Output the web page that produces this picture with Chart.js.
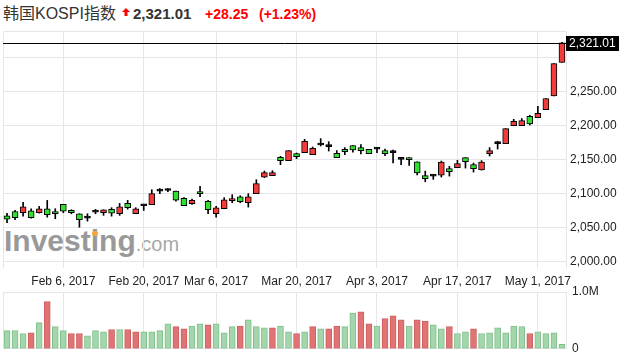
<!DOCTYPE html>
<html>
<head>
<meta charset="utf-8">
<script src="https://cdn.jsdelivr.net/npm/chart.js@4.4.1/dist/chart.umd.min.js"></script>
<style>
html, body { margin: 0; padding: 0; background: #fff; }
#wrap { position: relative; width: 626px; height: 362px; overflow: hidden; font-family: "Liberation Sans", Arial, sans-serif; }
#head { position: absolute; left: 3px; top: 3px; height: 22px; line-height: 22px; white-space: nowrap; }
#name { font-family: "Liberation Sans", "Noto Sans CJK SC", sans-serif; font-size: 16px; color: #333; }
#arrow { position: absolute; left: 119px; top: 5px; }
#last { position: absolute; left: 130px; top: 0; font-size: 15px; font-weight: bold; color: #333; }
#chg { position: absolute; left: 202px; top: 0; font-size: 14px; font-weight: bold; color: #f00; }
#pct { position: absolute; left: 256px; top: 0; font-size: 14px; font-weight: bold; color: #f00; }
#logo { position: absolute; left: 4px; top: 224px; color: #999; white-space: nowrap; line-height: 34px; }
#logo b { font-size: 30px; }
#logo b i { font-style: normal; position: relative; }
#logo b i::after { content: ""; position: absolute; left: 1px; top: 7px; width: 6px; height: 5px; border-radius: 3px; background: #f6a53a; }
#logo span { font-size: 20px; color: #a8a8a8; }
canvas { position: absolute; left: 0; top: 0; }
</style>
</head>
<body>
<div id="wrap">
  <div id="logo"><b>Invest<i>i</i>ng</b><span>.com</span></div>
  <div id="head">
    <span id="name">韩国KOSPI指数</span>
    <svg id="arrow" width="8" height="8" viewBox="0 0 8 8"><path d="M4 0 L8 4 L5.5 4 L5.5 8 L2.5 8 L2.5 4 L0 4 Z" fill="#f00"/></svg>
    <span id="last">2,321.01</span>
    <span id="chg">+28.25</span>
    <span id="pct">(+1.23%)</span>
  </div>
  <canvas id="priceChart" width="626" height="362"></canvas>
  <canvas id="volChart" width="626" height="362"></canvas>
</div>
<script>
// trading days shown
const dates = [
'2017-01-24','2017-01-25','2017-01-26','2017-01-31','2017-02-01','2017-02-02','2017-02-03',
'2017-02-06','2017-02-07','2017-02-08','2017-02-09','2017-02-10',
'2017-02-13','2017-02-14','2017-02-15','2017-02-16','2017-02-17',
'2017-02-20','2017-02-21','2017-02-22','2017-02-23','2017-02-24',
'2017-02-27','2017-02-28','2017-03-02','2017-03-03',
'2017-03-06','2017-03-07','2017-03-08','2017-03-09','2017-03-10',
'2017-03-13','2017-03-14','2017-03-15','2017-03-16','2017-03-17',
'2017-03-20','2017-03-21','2017-03-22','2017-03-23','2017-03-24',
'2017-03-27','2017-03-28','2017-03-29','2017-03-30','2017-03-31',
'2017-04-03','2017-04-04','2017-04-05','2017-04-06','2017-04-07',
'2017-04-10','2017-04-11','2017-04-12','2017-04-13','2017-04-14',
'2017-04-17','2017-04-18','2017-04-19','2017-04-20','2017-04-21',
'2017-04-24','2017-04-25','2017-04-26','2017-04-27','2017-04-28',
'2017-05-02','2017-05-04','2017-05-08','2017-05-10'
];

const opens = [
2067.2,2073.5,2071.6,2074.6,2071.6,2077.5,2073.5,2083.8,2075.0,2070.1,
2063.7,2072.5,2071.6,2076.5,2070.1,2085.3,2070.1,2081.9,2083.4,2103.4,
2104.3,2103.4,2092.6,2084.9,2102.5,2088.2,2070.1,2077.5,2089.3,2095.1,
2086.3,2099.6,2124.0,2126.0,2152.9,2148.1,2158.4,2159.9,2156.9,2171.0,
2168.7,2158.8,2164.7,2170.1,2167.2,2164.7,2165.1,2162.8,2159.9,2150.0,
2152.5,2146.3,2126.0,2125.4,2126.9,2136.3,2137.8,2152.5,2142.2,2134.3,
2158.4,2173.1,2173.1,2199.6,2199.6,2213.2,2211.3,2223.1,2243.1,2292.2
];
const highs = [
2070.6,2075.0,2086.8,2077.5,2080.9,2089.7,2077.5,2083.8,2076.0,2070.1,
2070.1,2076.5,2076.0,2079.0,2085.3,2089.7,2079.0,2083.8,2105.4,2106.9,
2106.9,2103.4,2093.7,2091.6,2110.3,2089.7,2080.9,2093.7,2098.1,2096.6,
2099.6,2120.1,2132.8,2133.4,2154.4,2162.8,2159.3,2179.4,2168.1,2180.4,
2176.0,2162.8,2167.2,2170.1,2171.6,2164.7,2167.2,2165.1,2163.7,2151.0,
2152.5,2146.3,2132.8,2127.6,2147.5,2139.7,2148.5,2152.5,2144.6,2148.1,
2167.2,2176.5,2195.1,2208.8,2209.9,2214.7,2227.9,2239.3,2290.7,2321.6
];
const lows = [
2056.9,2061.3,2066.6,2063.7,2071.0,2065.1,2062.8,2071.6,2070.1,2050.4,
2059.3,2070.1,2067.8,2066.6,2067.8,2076.9,2070.1,2075.0,2083.4,2099.6,
2102.5,2088.7,2081.9,2083.8,2095.1,2070.1,2065.1,2077.5,2086.3,2086.3,
2079.9,2099.6,2123.1,2126.0,2142.2,2148.1,2151.0,2159.9,2156.9,2169.6,
2162.2,2152.5,2156.9,2160.7,2157.8,2158.4,2159.9,2155.4,2144.6,2142.2,
2140.9,2127.1,2117.1,2120.6,2124.0,2125.4,2137.8,2137.2,2131.3,2134.3,
2154.9,2165.1,2173.1,2199.6,2199.6,2200.4,2211.3,2223.1,2243.1,2292.2
];
const closes = [
2062.2,2064.3,2080.4,2064.3,2077.5,2068.7,2070.1,2074.0,2071.6,2061.3,
2063.7,2072.5,2076.0,2071.0,2080.4,2079.0,2077.5,2081.9,2099.6,2103.4,
2104.3,2090.1,2081.9,2089.7,2099.6,2076.0,2079.0,2090.7,2092.2,2087.8,
2095.1,2114.3,2130.4,2130.4,2148.1,2162.8,2154.0,2176.5,2166.2,2171.0,
2168.7,2152.5,2161.3,2163.7,2162.8,2158.4,2165.1,2158.4,2159.9,2150.0,
2149.6,2130.1,2121.8,2125.4,2146.0,2131.9,2143.7,2146.6,2136.3,2146.0,
2162.8,2173.1,2195.1,2205.9,2206.9,2201.9,2217.6,2239.3,2290.7,2321.01
];

// volume in millions, 1 = red bar, 0 = green bar
const volumes = [
0.32,0.32,0.27,0.28,0.46,0.83,0.39,0.32,0.27,0.27,
0.23,0.32,0.30,0.34,0.34,0.34,0.30,0.30,0.30,0.32,
0.44,0.39,0.35,0.40,0.44,0.42,0.44,0.28,0.39,0.40,
0.51,0.39,0.37,0.37,0.40,0.30,0.27,0.30,0.39,0.35,
0.35,0.40,0.39,0.63,0.65,0.44,0.40,0.53,0.58,0.51,
0.40,0.51,0.49,0.42,0.35,0.39,0.27,0.30,0.35,0.27,
0.28,0.37,0.28,0.40,0.39,0.27,0.30,0.27,0.28,0.08
];
const volUp = [
0,0,0,1,0,1,0,0,1,1,
0,0,0,1,0,1,1,0,0,0,
0,1,1,0,0,1,0,0,0,1,
0,0,0,1,0,0,1,0,1,0,
1,1,0,0,1,1,0,1,1,1,
0,1,1,0,0,1,0,0,1,0,
0,0,0,0,0,1,0,0,0,0
];

const tickDates = ['2017-02-06','2017-02-20','2017-03-06','2017-03-20','2017-04-03','2017-04-17','2017-05-02'];
const tickLabels = ['Feb 6, 2017','Feb 20, 2017','Mar 6, 2017','Mar 20, 2017','Apr 3, 2017','Apr 17, 2017','May 1, 2017'];
const priceTicks = [2000, 2050, 2100, 2150, 2200, 2250, 2300];
const volTicks = [0, 1.0];

const lastPrice = closes[closes.length - 1];
const gridCol = '#e6e6ea';
const upCol = '#f23c3c', downCol = '#2fe02f';

Chart.defaults.font.family = '"Liberation Sans", Arial, sans-serif';
Chart.defaults.font.size = 12;
Chart.defaults.color = '#222';

function xGrid(ctx) {
  return tickDates.includes(dates[ctx.index]) ? gridCol : 'rgba(0,0,0,0)';
}

// light frame round the plotting area (left, top, right)
const frame = {
  id: 'frame',
  beforeDraw(chart) {
    const a = chart.chartArea, c = chart.ctx;
    c.save();
    c.strokeStyle = gridCol;
    c.lineWidth = 1;
    c.beginPath();
    c.moveTo(a.left + 0.5, a.bottom);
    c.lineTo(a.left + 0.5, a.top + 0.5);
    c.lineTo(a.right + 0.5, a.top + 0.5);
    c.lineTo(a.right + 0.5, a.bottom);
    c.stroke();
    c.restore();
  }
};

// last price line and black label box
const lastLine = {
  id: 'lastLine',
  afterDatasetsDraw(chart) {
    const a = chart.chartArea, c = chart.ctx;
    const y = Math.round(chart.scales.y.getPixelForValue(lastPrice));
    c.save();
    c.strokeStyle = '#000';
    c.lineWidth = 1;
    c.beginPath();
    c.moveTo(a.left, y + 0.5);
    c.lineTo(a.right, y + 0.5);
    c.stroke();
    c.fillStyle = '#000';
    c.fillRect(a.right, y - 7, 53, 15);
    c.fillStyle = '#fff';
    c.font = '12px "Liberation Sans", Arial, sans-serif';
    c.textBaseline = 'middle';
    c.fillText(lastPrice.toLocaleString('en-US', {minimumFractionDigits: 2}), a.right + 3, y + 1);
    c.restore();
  }
};

const bodyCols = closes.map((c, i) => c > opens[i] ? upCol : (c < opens[i] ? downCol : '#000'));

new Chart(document.getElementById('priceChart'), {
  type: 'bar',
  data: {
    labels: dates,
    datasets: [{
      label: 'wick',
      data: dates.map((d, i) => [lows[i], highs[i]]),
      backgroundColor: '#000',
      barThickness: 1,
      minBarLength: 1,
      grouped: false,
      order: 2
    }, {
      label: 'body',
      data: dates.map((d, i) => [opens[i], closes[i]]),
      backgroundColor: bodyCols,
      borderColor: '#000',
      borderWidth: 1,
      borderSkipped: false,
      barThickness: 6,
      minBarLength: 2,
      grouped: false,
      order: 1
    }]
  },
  options: {
    responsive: false,
    animation: false,
    layout: { padding: { left: 3, top: 31, right: 0, bottom: 72 } },
    plugins: { legend: { display: false }, tooltip: { enabled: false } },
    scales: {
      x: {
        offset: true,
        grid: { offset: false, color: xGrid, drawTicks: false },
        border: { display: false },
        ticks: {
          autoSkip: false, maxRotation: 0, padding: 6,
          callback: function (v, i) {
            const k = tickDates.indexOf(dates[i]);
            return k >= 0 ? tickLabels[k] : '';
          }
        },
        afterFit: s => { s.height = 22; }
      },
      y: {
        position: 'right',
        min: 1990.5,
        max: 2338.4,
        grid: { color: gridCol, drawTicks: false },
        border: { display: false },
        afterBuildTicks: s => { s.ticks = priceTicks.map(v => ({ value: v })); },
        ticks: {
          padding: 4,
          callback: v => Math.abs(v - lastPrice) < 25 ? '' : v.toLocaleString('en-US', {minimumFractionDigits: 2, maximumFractionDigits: 2})
        },
        afterFit: s => { s.width = 60; }
      }
    }
  },
  plugins: [frame, lastLine]
});

new Chart(document.getElementById('volChart'), {
  type: 'bar',
  data: {
    labels: dates,
    datasets: [{
      label: 'volume',
      data: volumes,
      backgroundColor: volUp.map(u => u ? '#e07474' : '#a3d6ab'),
      borderColor: volUp.map(u => u ? '#cc5f5f' : '#7fbf8b'),
      borderWidth: 1,
      borderSkipped: false,
      barThickness: 6
    }]
  },
  options: {
    responsive: false,
    animation: false,
    layout: { padding: { left: 3, top: 292, right: 0, bottom: 12 } },
    plugins: { legend: { display: false }, tooltip: { enabled: false } },
    scales: {
      x: {
        offset: true,
        grid: { offset: false, color: xGrid, drawTicks: false },
        border: { display: false },
        ticks: { display: false },
        afterFit: s => { s.height = 0; }
      },
      y: {
        position: 'right',
        min: 0,
        max: 1.0,
        grid: { color: gridCol, drawTicks: false },
        border: { display: false },
        afterBuildTicks: s => { s.ticks = volTicks.map(v => ({ value: v })); },
        ticks: { padding: 6, callback: v => v === 0 ? '0' : v.toFixed(1) + 'M' },
        afterFit: s => { s.width = 60; }
      }
    }
  },
  plugins: [frame]
});
</script>
</body>
</html>
